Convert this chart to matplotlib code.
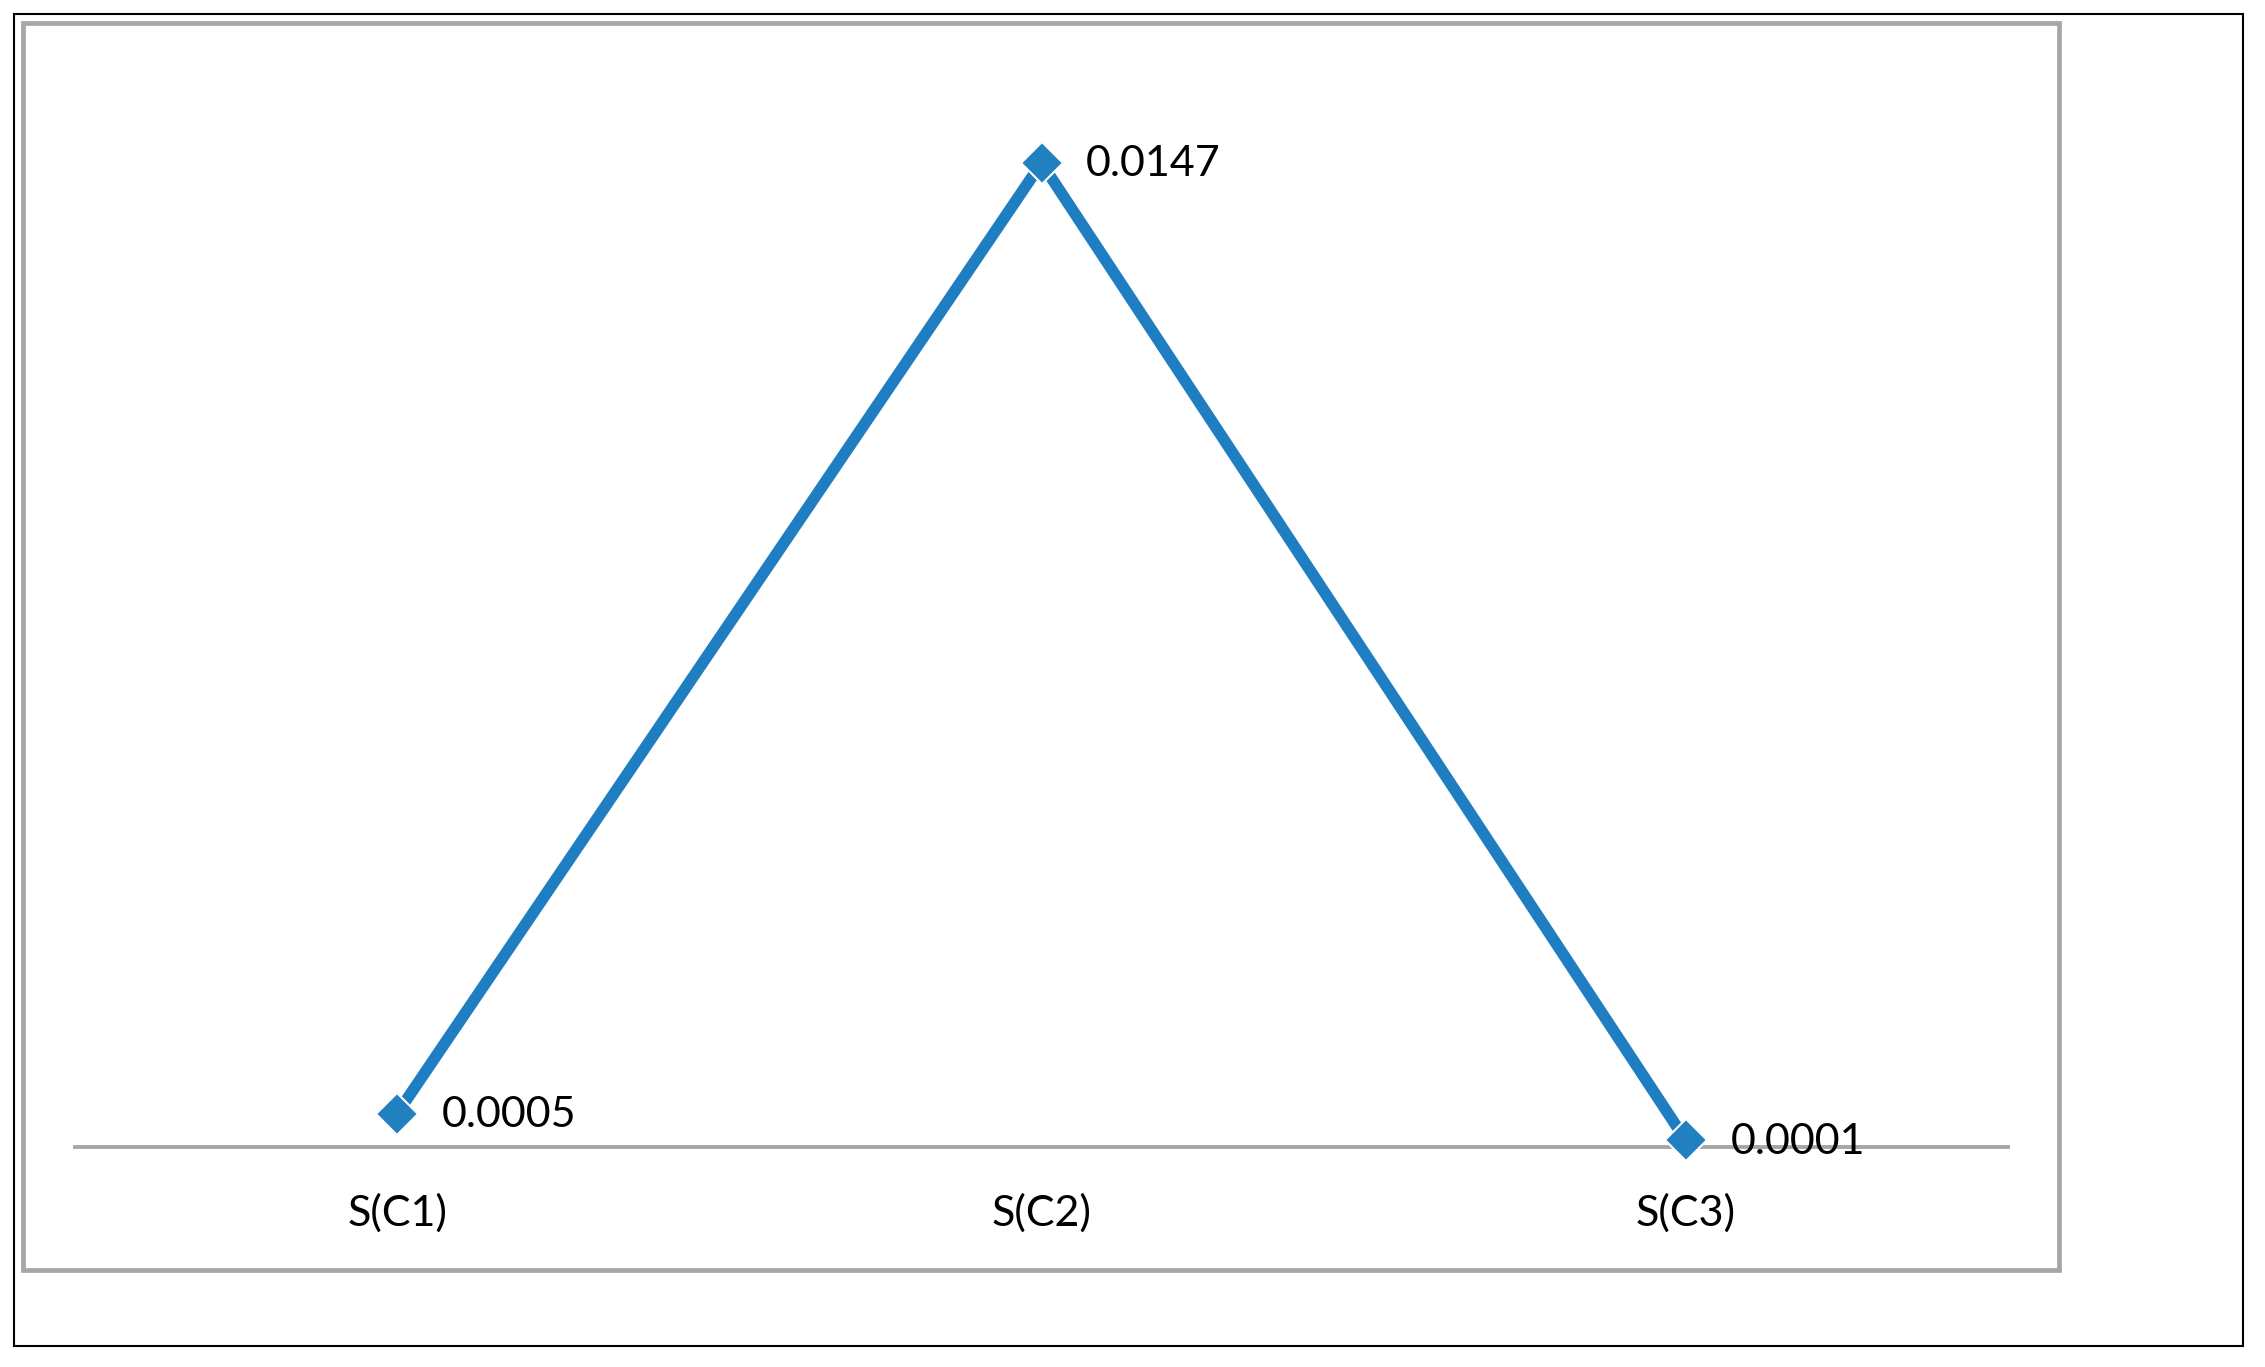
import matplotlib
matplotlib.use("Agg")
import matplotlib.pyplot as plt
from matplotlib.patches import Rectangle

categories = ["S(C1)", "S(C2)", "S(C3)"]
values = [0.0005, 0.0147, 0.0001]
value_labels = ["0.0005", "0.0147", "0.0001"]

plt.rcParams['font.family'] = ['Lato', 'DejaVu Sans']

W, H = 2265, 1367
fig = plt.figure(figsize=(W / 100, H / 100), dpi=100)


def fx(px):
    return px / W


def fy(py):
    return 1 - py / H


# outer black border
fig.patches.append(Rectangle((fx(14), fy(1346)), fx(2243) - fx(14), fy(14) - fy(1346),
                             transform=fig.transFigure, fill=False, edgecolor='black',
                             linewidth=1.5))
# inner gray chart-area border
fig.patches.append(Rectangle((fx(23), fy(1270)), fx(2059) - fx(23), fy(23) - fy(1270),
                             transform=fig.transFigure, fill=False, edgecolor='#A6A6A6',
                             linewidth=3.4))

ax = fig.add_axes([fx(75), fy(1147), fx(2008) - fx(75), (1147 - 129.5) / H])
ax.set_facecolor('none')
x = list(range(len(categories)))
ax.plot(x, values, color='#1F7EC1', lw=8.3, marker='D', ms=21, mfc='#2080C0',
        mec='white', mew=1.5, solid_capstyle='butt', clip_on=False, zorder=3)
ax.set_xlim(-0.5, 2.5)
ax.set_ylim(0, 0.0152)
for s in ['top', 'right', 'left']:
    ax.spines[s].set_visible(False)
ax.spines['bottom'].set_color('#A6A6A6')
ax.spines['bottom'].set_linewidth(2.8)
ax.spines['bottom'].set_zorder(1)
ax.set_yticks([])
ax.set_xticks(x)
ax.set_xticklabels(categories, fontsize=31)
ax.tick_params(axis='x', length=0, pad=33)

for xi, v, lab in zip(x, values, value_labels):
    ax.annotate(lab, (xi, v), xytext=(32, -1), textcoords='offset points',
                ha='left', va='center', fontsize=31, annotation_clip=False, zorder=4)

fig.savefig('out.png', dpi=100)
